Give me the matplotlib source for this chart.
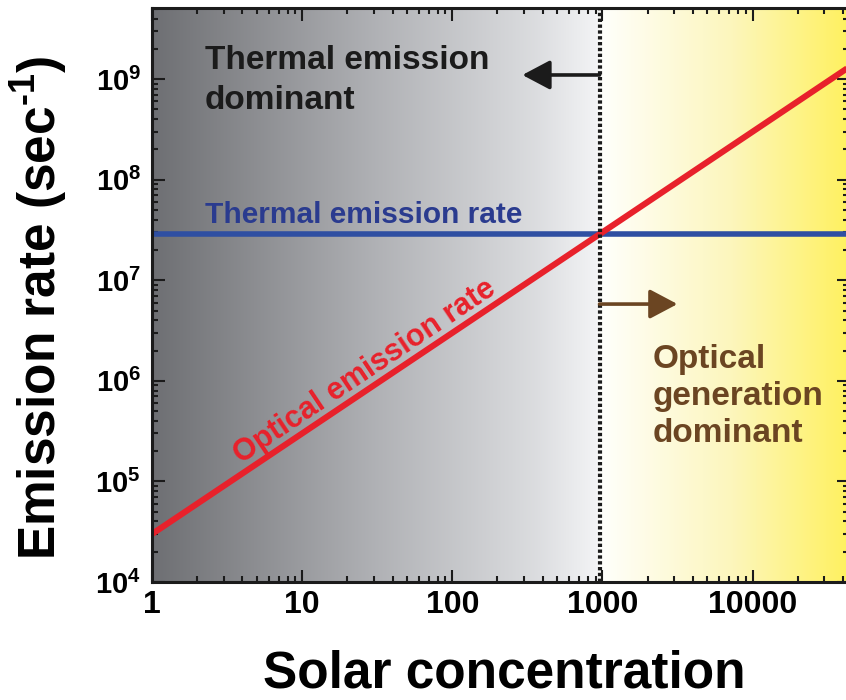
"""
Emission rate vs solar concentration: thermal rate (flat) vs optical rate
(grows linearly with concentration), log-log, with a gray/yellow gradient
background marking the two regimes.
"""

import matplotlib
matplotlib.use("Agg")
import matplotlib.pyplot as plt
import numpy as np
from matplotlib.ticker import FixedLocator, FixedFormatter, LogLocator, NullFormatter


# ---------------------------------------------------------------------------
# Datos
# ---------------------------------------------------------------------------

concentration = [1, 44000]                  # soles
optical_rate = [3.0e4, 1.32e9]              # s^-1, pendiente 1 en log-log
thermal_rate = [2.87e7, 2.87e7]             # s^-1, constante
crossover = 957                             # donde se cruzan ambas tasas

x_ticks = [1, 10, 100, 1000, 10000]
x_tick_labels = ["1", "10", "100", "1000", "10000"]
y_ticks = [1e4, 1e5, 1e6, 1e7, 1e8, 1e9]
y_tick_labels = [r"$10^{4}$", r"$10^{5}$", r"$10^{6}$",
                 r"$10^{7}$", r"$10^{8}$", r"$10^{9}$"]

x_lim = (1, 44000)
y_lim = (1e4, 5.1e9)

# ---------------------------------------------------------------------------
# Estilo
# ---------------------------------------------------------------------------

plt.rcParams["font.family"] = ["Liberation Sans", "DejaVu Sans"]
plt.rcParams["font.weight"] = "bold"
plt.rcParams["mathtext.fontset"] = "custom"
plt.rcParams["mathtext.rm"] = "Liberation Sans:bold"
plt.rcParams["mathtext.it"] = "Liberation Sans:bold"
plt.rcParams["mathtext.bf"] = "Liberation Sans:bold"

RED = "#e8212b"
BLUE = "#2f4fa2"
BLUE_TXT = "#2a3b8f"
BROWN = "#6b4522"
INK = "#1b1b1b"

fig = plt.figure(figsize=(8.46, 7.0), dpi=100)
ax = fig.add_axes([0.1797, 0.1686, 0.824, 0.82])

# Fondo degradado: gris oscuro -> casi blanco (régimen térmico),
# blanco -> amarillo (régimen óptico)
stops = [0.0, 0.32, 0.55, 0.636, 0.645, 0.83, 1.0]
cols = np.array([
    [0.43, 0.435, 0.45],
    [0.69, 0.695, 0.71],
    [0.86, 0.865, 0.875],
    [0.95, 0.953, 0.96],
    [1.0, 1.0, 0.985],
    [0.99, 0.965, 0.74],
    [1.0, 0.945, 0.37],
])
fx = np.linspace(0, 1, 1200)
grad = np.stack([np.interp(fx, stops, cols[:, k]) for k in range(3)], axis=-1)
ax.imshow(grad[np.newaxis, :, :], extent=(0, 1, 0, 1), transform=ax.transAxes,
          aspect="auto", zorder=0, interpolation="bilinear")

ax.set_xscale("log")
ax.set_yscale("log")
ax.set_xlim(*x_lim)
ax.set_ylim(*y_lim)

ax.plot(concentration, thermal_rate, color=BLUE, lw=4.0, zorder=3,
        solid_capstyle="butt")
ax.plot(concentration, optical_rate, color=RED, lw=4.4, zorder=4,
        solid_capstyle="butt")
ax.axvline(crossover, color=INK, lw=3.0, linestyle=(0, (0.8, 0.6)),
           dash_capstyle="butt", zorder=5)

# Ejes y ticks
ax.xaxis.set_major_locator(FixedLocator(x_ticks))
ax.xaxis.set_major_formatter(FixedFormatter(x_tick_labels))
ax.xaxis.set_minor_locator(LogLocator(base=10, subs=np.arange(2, 10)))
ax.xaxis.set_minor_formatter(NullFormatter())
ax.yaxis.set_major_locator(FixedLocator(y_ticks))
ax.yaxis.set_major_formatter(FixedFormatter(y_tick_labels))
ax.yaxis.set_minor_locator(LogLocator(base=10, subs=np.arange(2, 10)))
ax.yaxis.set_minor_formatter(NullFormatter())

ax.tick_params(which="both", direction="in", top=True, right=True,
               color=INK, width=1.5)
ax.tick_params(which="major", length=9)
ax.tick_params(which="minor", length=4.5)
ax.tick_params(axis="x", which="major", labelsize=23, pad=6)
ax.tick_params(axis="y", which="major", labelsize=21, pad=8)
for sp in ax.spines.values():
    sp.set_linewidth(2.2)
    sp.set_color(INK)
    sp.set_zorder(6)

ax.set_xlabel("Solar concentration", fontsize=37, fontweight="bold",
              va="baseline")
ax.xaxis.set_label_coords(0.505, -0.183)
ax.set_ylabel(r"Emission rate (sec$^{\text{-}1}$)", fontsize=37,
              fontweight="bold", va="center")
ax.yaxis.set_label_coords(-0.161, 0.478)

# Anotaciones
ax.text(2.25, 2.18e9, "Thermal emission\ndominant", fontsize=24,
        fontweight="bold", color=INK, ha="left", va="top", linespacing=1.39,
        zorder=7)
ax.text(2.25, 3.69e7, "Thermal emission rate", fontsize=21.5,
        fontweight="bold", color=BLUE_TXT, ha="left", va="baseline", zorder=7)
ax.text(26.3, 1.23e6, "Optical emission rate", fontsize=22, fontweight="bold",
        color=RED, ha="center", va="center", rotation=33.8,
        rotation_mode="anchor", zorder=7)
ax.text(2150, 2.33e6, "Optical\ngeneration\ndominant", fontsize=24,
        fontweight="bold", color=BROWN, ha="left", va="top", linespacing=1.26,
        zorder=7)

ax.annotate("", xy=(293, 1.1e9), xytext=(crossover, 1.1e9),
            arrowprops=dict(arrowstyle="-|>,head_length=0.85,head_width=0.45",
                            mutation_scale=20, lw=2.6, color=INK,
                            shrinkA=0, shrinkB=0), zorder=7)
ax.annotate("", xy=(3162, 5.8e6), xytext=(crossover, 5.8e6),
            arrowprops=dict(arrowstyle="-|>,head_length=0.85,head_width=0.45",
                            mutation_scale=20, lw=2.6, color=BROWN,
                            shrinkA=0, shrinkB=0), zorder=7)

fig.savefig("out.png", dpi=100)
plt.close(fig)
print("PNG: out.png")
